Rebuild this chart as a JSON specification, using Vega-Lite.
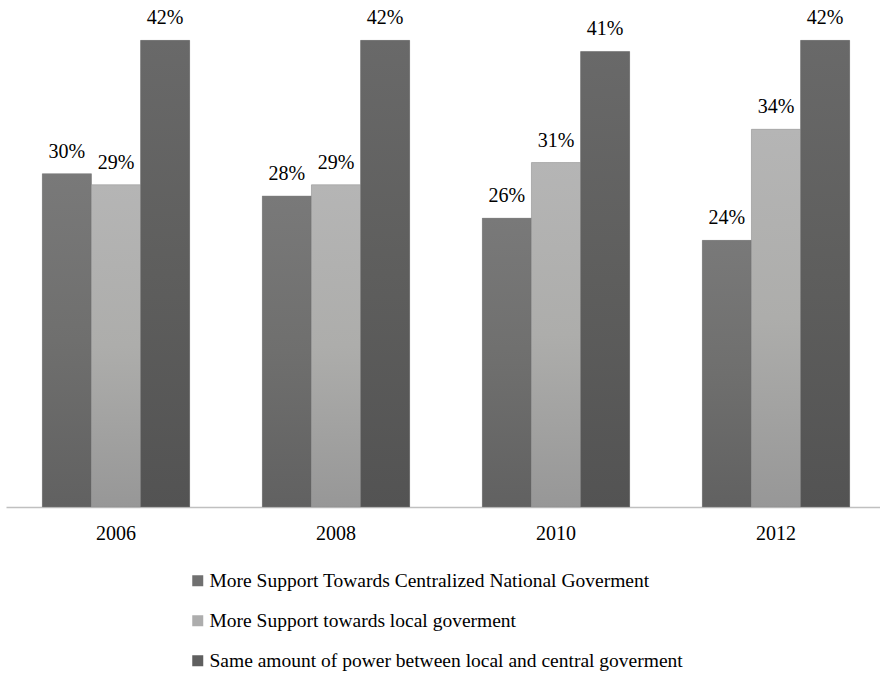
{
  "$schema": "https://vega.github.io/schema/vega-lite/v6.json",
  "width": 880,
  "height": 500,
  "autosize": {"type": "none"},
  "padding": {"left": 6, "top": 7, "right": 0, "bottom": 167},
  "background": "white",
  "config": {
    "view": {"stroke": null},
    "font": "Liberation Serif",
    "style": {"pctlabel": {"font": "Liberation Serif", "fontSize": 20, "fill": "#000000"}}
  },
  "data": {
    "values": [
      {"year": "2006", "series": "More Support Towards Centralized National Goverment", "value": 0.30},
      {"year": "2006", "series": "More Support towards local goverment", "value": 0.29},
      {"year": "2006", "series": "Same amount of power between local and central goverment", "value": 0.42},
      {"year": "2008", "series": "More Support Towards Centralized National Goverment", "value": 0.28},
      {"year": "2008", "series": "More Support towards local goverment", "value": 0.29},
      {"year": "2008", "series": "Same amount of power between local and central goverment", "value": 0.42},
      {"year": "2010", "series": "More Support Towards Centralized National Goverment", "value": 0.26},
      {"year": "2010", "series": "More Support towards local goverment", "value": 0.31},
      {"year": "2010", "series": "Same amount of power between local and central goverment", "value": 0.41},
      {"year": "2012", "series": "More Support Towards Centralized National Goverment", "value": 0.24},
      {"year": "2012", "series": "More Support towards local goverment", "value": 0.34},
      {"year": "2012", "series": "Same amount of power between local and central goverment", "value": 0.42}
    ]
  },
  "encoding": {
    "x": {
      "field": "year", "type": "nominal",
      "scale": {"paddingInner": 0.33, "paddingOuter": 0.165},
      "axis": {
        "title": null, "labelAngle": 0, "ticks": false,
        "domainColor": "#c0c0c0", "domainWidth": 1.5,
        "labelFont": "Liberation Serif", "labelFontSize": 20, "labelColor": "#000000",
        "labelBaseline": "alphabetic", "labelPadding": 32
      }
    },
    "xOffset": {
      "field": "series", "type": "nominal",
      "sort": ["More Support Towards Centralized National Goverment", "More Support towards local goverment", "Same amount of power between local and central goverment"],
      "scale": {"paddingInner": 0, "paddingOuter": 0}
    },
    "y": {
      "field": "value", "type": "quantitative",
      "scale": {"domain": [0, 0.45]},
      "axis": null
    }
  },
  "layer": [
    {
      "mark": {"type": "bar"},
      "encoding": {
        "color": {
          "field": "series", "type": "nominal",
          "sort": ["More Support Towards Centralized National Goverment", "More Support towards local goverment", "Same amount of power between local and central goverment"],
          "scale": {"range": ["#707070", "#adadad", "#5f5f5f"]},
          "legend": {
            "title": null,
            "orient": "none",
            "legendX": 182,
            "legendY": 564,
            "direction": "vertical",
            "symbolType": "square",
            "symbolSize": 121,
            "symbolStrokeWidth": 0,
            "symbolOpacity": 1,
            "labelFont": "Liberation Serif",
            "labelFontSize": 19.5,
            "labelColor": "#000000",
            "labelOffset": 2,
            "labelLimit": 800,
            "rowPadding": 19,
            "padding": 0
          }
        }
      }
    },
    {
      "transform": [{"filter": "datum.series === 'More Support Towards Centralized National Goverment'"}],
      "mark": {"type": "bar", "stroke": "#8a8a8a", "strokeWidth": 0.6, "strokeOpacity": 0.6,
        "color": {"gradient": "linear", "x1": 0, "y1": 0, "x2": 0, "y2": 1, "stops": [{"offset": 0, "color": "#797979"}, {"offset": 0.5, "color": "#6f6f6e"}, {"offset": 1, "color": "#616161"}]}},
      "encoding": {}
    },
    {
      "transform": [{"filter": "datum.series === 'More Support towards local goverment'"}],
      "mark": {"type": "bar", "stroke": "#8a8a8a", "strokeWidth": 0.6, "strokeOpacity": 0.6,
        "color": {"gradient": "linear", "x1": 0, "y1": 0, "x2": 0, "y2": 1, "stops": [{"offset": 0, "color": "#b5b5b5"}, {"offset": 0.5, "color": "#adadab"}, {"offset": 1, "color": "#979797"}]}},
      "encoding": {}
    },
    {
      "transform": [{"filter": "datum.series === 'Same amount of power between local and central goverment'"}],
      "mark": {"type": "bar", "stroke": "#8a8a8a", "strokeWidth": 0.6, "strokeOpacity": 0.6,
        "color": {"gradient": "linear", "x1": 0, "y1": 0, "x2": 0, "y2": 1, "stops": [{"offset": 0, "color": "#696969"}, {"offset": 0.5, "color": "#5e5e5d"}, {"offset": 1, "color": "#535353"}]}},
      "encoding": {}
    },
    {
      "mark": {"type": "text", "style": "pctlabel", "baseline": "alphabetic", "dy": -16, "fontSize": 20, "font": "Liberation Serif", "fill": "#000000"},
      "encoding": {
        "text": {"field": "value", "type": "quantitative", "format": ".0%"}
      }
    }
  ]
}
